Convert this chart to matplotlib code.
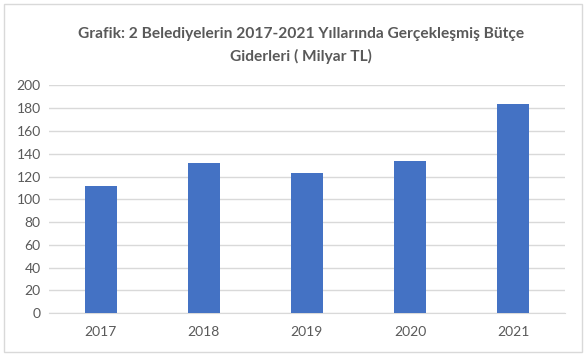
import matplotlib
matplotlib.use('Agg')
import matplotlib.pyplot as plt
from matplotlib.patches import Rectangle

# data
years = ['2017', '2018', '2019', '2020', '2021']
spending = [112, 132, 123, 134, 184]
y_ticks = [0, 20, 40, 60, 80, 100, 120, 140, 160, 180, 200]

plt.rcParams['font.family'] = ['Lato', 'DejaVu Sans']

fig = plt.figure(figsize=(5.86, 3.56), dpi=100)
ax = fig.add_axes([0.0836, 0.120, 0.880, 0.640])

ax.bar(range(len(years)), spending, width=0.31, color='#4472C4', zorder=3)

ax.set_xlim(-0.5, len(years) - 0.5)
ax.set_ylim(0, 200)
ax.set_yticks(y_ticks)
ax.set_xticks(range(len(years)))
ax.set_xticklabels(years)
ax.grid(axis='y', color='#D9D9D9', linewidth=1, zorder=0)
for s in ['top', 'right', 'left']:
    ax.spines[s].set_visible(False)
ax.spines['bottom'].set_color('#D9D9D9')
ax.tick_params(axis='both', length=0, labelsize=10, colors='#595959')
ax.tick_params(axis='x', pad=9)
ax.tick_params(axis='y', pad=6)

fig.text(0.513, 0.905, 'Grafik: 2 Belediyelerin 2017-2021 Yıllarında Gerçekleşmiş Bütçe',
         ha='center', va='center', fontsize=11.2, fontweight='bold', color='#595959')
fig.text(0.513, 0.840, 'Giderleri ( Milyar TL)',
         ha='center', va='center', fontsize=11.2, fontweight='bold', color='#595959')

# outer chart border
fig.patches.append(Rectangle((0.007, 0.011), 0.986, 0.978, transform=fig.transFigure,
                             fill=False, edgecolor='#D9D9D9', linewidth=1))

plt.savefig('out.png', dpi=100)
